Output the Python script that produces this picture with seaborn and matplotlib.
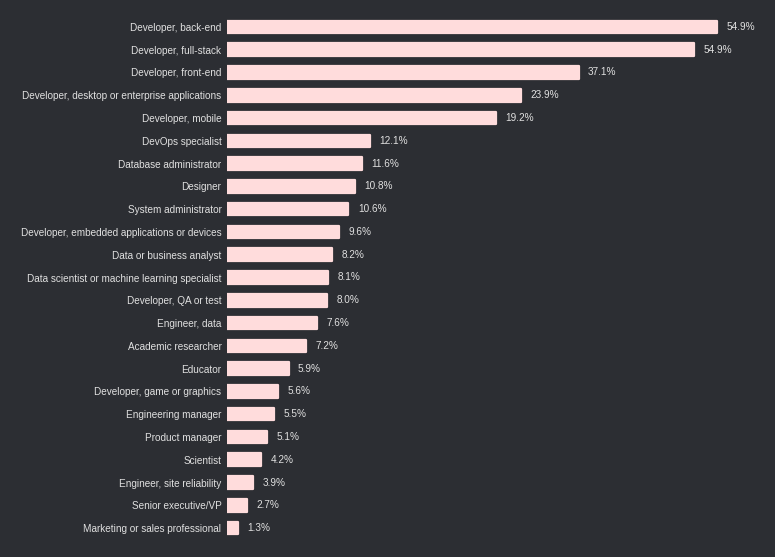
import matplotlib
matplotlib.use("Agg")
import matplotlib.pyplot as plt
import seaborn as sns
import pandas as pd

roles = [
    "Developer, back-end", "Developer, full-stack", "Developer, front-end",
    "Developer, desktop or enterprise applications", "Developer, mobile",
    "DevOps specialist", "Database administrator", "Designer",
    "System administrator", "Developer, embedded applications or devices",
    "Data or business analyst", "Data scientist or machine learning specialist",
    "Developer, QA or test", "Engineer, data", "Academic researcher",
    "Educator", "Developer, game or graphics", "Engineering manager",
    "Product manager", "Scientist", "Engineer, site reliability",
    "Senior executive/VP", "Marketing or sales professional",
]
share_labels = [54.9, 54.9, 37.1, 23.9, 19.2, 12.1, 11.6, 10.8, 10.6, 9.6,
                8.2, 8.1, 8.0, 7.6, 7.2, 5.9, 5.6, 5.5, 5.1, 4.2, 3.9, 2.7, 1.3]
# bar lengths as drawn in the reference (not proportional to the labels)
bar_lengths = [54.9, 52.3, 39.4, 32.9, 30.1, 16.0, 15.1, 14.3, 13.6, 12.5,
               11.8, 11.3, 11.2, 10.1, 8.9, 6.9, 5.7, 5.3, 4.5, 3.8, 2.9, 2.2, 1.2]

df = pd.DataFrame({"role": roles, "length": bar_lengths, "label": share_labels})

BG = "#2c2e33"
BAR = "#ffdcdc"
TXT = "#e0e0e0"

sns.set_theme(style="dark")
plt.rcParams["font.family"] = ["Liberation Sans", "DejaVu Sans"]

fig = plt.figure(figsize=(7.75, 5.57), dpi=100, facecolor=BG)
ax = fig.add_axes([227 / 775, 1 - 539.5 / 557, (760 - 227) / 775, (539.5 - 15.5) / 557])
ax.set_facecolor(BG)

sns.barplot(data=df, y="role", x="length", orient="h", color=BAR, width=0.55,
            saturation=1, ax=ax)
for p in ax.patches:
    p.set_edgecolor(BAR)
    p.set_linewidth(1.6)
    p.set_joinstyle("round")

for i, (L, v) in enumerate(zip(bar_lengths, share_labels)):
    ax.annotate(f"{v:.1f}%", xy=(L, i), xytext=(6.8, 0), textcoords="offset points",
                ha="left", va="center", color=TXT, fontsize=7.2)

ax.set_xlim(0, (760 - 227) / 8.925)
ax.set_ylim(len(roles) - 0.5, -0.5)
ax.set_xlabel("")
ax.set_ylabel("")
ax.set_xticks([])
ax.tick_params(axis="y", length=0, pad=4, labelsize=7.2, labelcolor=TXT)
for s in ax.spines.values():
    s.set_visible(False)
ax.grid(False)

fig.savefig("out.png", dpi=100, facecolor=BG)
